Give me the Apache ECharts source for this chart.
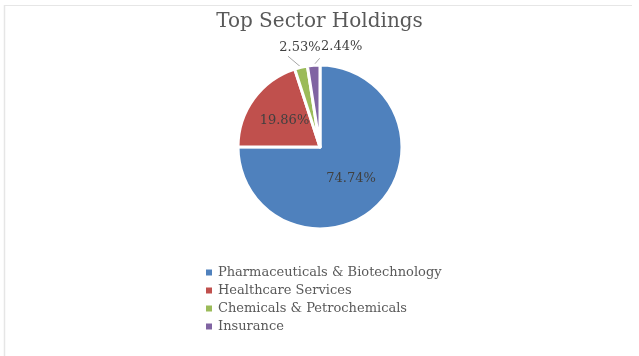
<!DOCTYPE html>
<html>
<head>
<meta charset="utf-8">
<script src="https://cdn.jsdelivr.net/npm/echarts@6/dist/echarts.min.js"></script>
<style>html,body{margin:0;padding:0;background:#fff}#c{width:639px;height:356px}</style>
</head>
<body>
<div id="c"></div>
<script>
var categories = ["Pharmaceuticals & Biotechnology", "Healthcare Services", "Chemicals & Petrochemicals", "Insurance"];
var values = [74.74, 19.86, 2.53, 2.44];
var colors = ["#4F81BD", "#C0504D", "#9BBB59", "#8064A2"];

var FONT = "DejaVu Serif";
var chart = echarts.init(document.getElementById('c'));
var data = categories.map(function (n, i) {
  var small = values[i] < 5;
  return {
    name: n, value: values[i],
    itemStyle: { color: colors[i] },
    label: { position: small ? 'outside' : 'inside' },
    labelLine: { show: small }
  };
});
chart.setOption({
  animation: false,
  title: {
    text: 'Top Sector Holdings', left: 'center', top: 7,
    textStyle: { fontFamily: FONT, fontSize: 20, fontWeight: 'normal', color: '#595959' }
  },
  legend: {
    orient: 'vertical', left: 199, top: 261,
    icon: 'rect', itemWidth: 8, itemHeight: 8, itemGap: 5,
    textStyle: { fontFamily: FONT, fontSize: 13, color: '#595959', lineHeight: 13 },
    data: categories
  },
  graphic: [
    { type: 'line', shape: { x1: 4, y1: 5.5, x2: 632, y2: 5.5 }, style: { stroke: '#e6e6e6', lineWidth: 1 } },
    { type: 'line', shape: { x1: 4.5, y1: 5, x2: 4.5, y2: 356 }, style: { stroke: '#e6e6e6', lineWidth: 1.5 } }
  ],
  series: [{
    type: 'pie',
    center: [320, 147], radius: 82,
    startAngle: 90, clockwise: true,
    itemStyle: { borderColor: '#fff', borderWidth: 3 },
    label: {
      formatter: function (p) { return p.value.toFixed(2) + '%'; },
      fontFamily: FONT, fontSize: 13, color: '#404040'
    },
    labelLine: { lineStyle: { color: '#a6a6a6', width: 1 }, length: 8, length2: 4 },
    labelLayout: function (p) {
      if (p.dataIndex < 2) return {};
      var a = p.labelLinePoints ? p.labelLinePoints[0] : null;
      if (!a) return {};
      if (p.dataIndex === 2) {
        return { x: a[0] - 1, y: a[1] - 20, align: 'center', verticalAlign: 'middle',
                 labelLinePoints: [[a[0], a[1]], [a[0] - 13, a[1] - 11], [a[0] - 13, a[1] - 11]] };
      }
      return { x: a[0] + 28, y: a[1] - 19, align: 'center', verticalAlign: 'middle',
               labelLinePoints: [[a[0], a[1]], [a[0] + 6, a[1] - 7], [a[0] + 6, a[1] - 7]] };
    },
    emphasis: { disabled: true },
    data: data
  }]
});
</script>
</body>
</html>
